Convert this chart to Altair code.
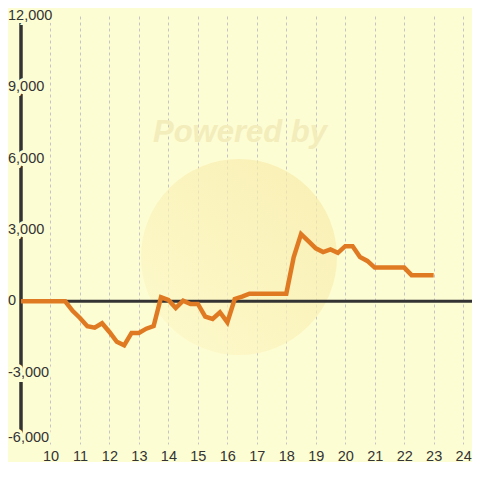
import altair as alt
import pandas as pd

hours = [9, 9.25, 9.5, 9.75, 10, 10.25, 10.5, 10.75, 11, 11.25, 11.5, 11.75,
         12, 12.25, 12.5, 12.75, 13, 13.25, 13.5, 13.75, 14, 14.25, 14.5, 14.75,
         15, 15.25, 15.5, 15.75, 16, 16.25, 16.5, 16.75, 17, 17.25, 17.5, 17.75,
         18, 18.25, 18.5, 18.75, 19, 19.25, 19.5, 19.75, 20, 20.25, 20.5, 20.75,
         21, 21.25, 21.5, 21.75, 22, 22.25, 22.5, 22.75, 23]
values = [0, 0, 0, 0, 0, 0, 0, -400, -700, -1050, -1110, -920,
          -1290, -1700, -1850, -1330, -1330, -1150, -1040, 170, 60, -280, 30, -110,
          -110, -640, -740, -460, -880, 100, 200, 320, 320, 320, 320, 320,
          320, 1850, 2830, 2530, 2230, 2070, 2180, 2040, 2320, 2320, 1860, 1700,
          1420, 1420, 1420, 1420, 1420, 1100, 1100, 1100, 1100]

x_ticks = list(range(10, 25))
y_grid = list(range(-6000, 12001, 1000))
y_label_values = [12000, 9000, 6000, 3000, 0, -3000, -6000]
y_label_texts = ["12,000", "9,000", "6,000", "3,000", "0", "-3,000", "-6,000"]
watermark_text = ["Powered by"]

BG = "#fdfdd3"
FONT = "Liberation Sans"
W, H = 451, 428

df = pd.DataFrame({"h": hours, "v": values})
labels_df = pd.DataFrame({"v": y_label_values, "t": y_label_texts})
one = pd.DataFrame({"t": watermark_text})

xs = alt.Scale(domain=[9, 24.3], nice=False, zero=False)
ys = alt.Scale(domain=[-6000, 12000], nice=False, zero=False)

base = alt.Chart(df).encode(
    x=alt.X("h:Q", scale=xs, axis=alt.Axis(
        values=x_ticks, title=None, domain=False, ticks=False,
        grid=True, gridDash=[3, 3], gridColor="#c4c4c4", gridWidth=1,
        labelFont=FONT, labelFontSize=14.5, labelColor="#333333",
        labelPadding=5, labelFlush=False)),
    y=alt.Y("v:Q", scale=ys, axis=alt.Axis(
        values=y_grid, title=None, domain=False, ticks=False, labels=False,
        grid=True, gridColor="#c8c8c8", gridWidth=1.2)),
)

grad = alt.LinearGradient(
    gradient="linear",
    stops=[alt.GradientStop(color="#fdf8c8", offset=0),
           alt.GradientStop(color="#f7e9a6", offset=1)],
    x1=0, y1=1, x2=1, y2=0)

globe = alt.Chart(one).mark_circle(size=38400, fill=grad, opacity=0.7).encode(
    x=alt.value(218), y=alt.value(241))

wm = alt.Chart(one).mark_text(
    font=FONT, fontSize=31, fontWeight="bold", fontStyle="italic",
    color="#f3ecbb", align="center", baseline="middle").encode(
    x=alt.value(219), y=alt.value(117), text="t:N")

line = base.mark_line(color="#e07a22", strokeWidth=4.5, strokeJoin="miter")

axis_line = alt.Chart(one).mark_rule(color="#333333", strokeWidth=3.5).encode(
    x=alt.value(0), y=alt.value(0), y2=alt.value(H))

zero_line = alt.Chart(one).mark_rule(color="#333333", strokeWidth=3).encode(
    y=alt.datum(0, scale=ys), x=alt.value(0), x2=alt.value(W))

lab_base = alt.Chart(labels_df).transform_calculate(
    vp="datum.v == -6000 ? datum.v + 250 : datum.v")

halo = lab_base.mark_text(
    font=FONT, fontSize=14.5, align="left", baseline="middle",
    fill=BG, stroke=BG, strokeWidth=6).encode(
    x=alt.value(-13), y=alt.Y("vp:Q", scale=ys, axis=None), text="t:N")

ylab = lab_base.mark_text(
    font=FONT, fontSize=14.5, align="left", baseline="middle",
    color="#333333").encode(
    x=alt.value(-13), y=alt.Y("vp:Q", scale=ys, axis=None), text="t:N")

chart = alt.layer(base.mark_line(opacity=0), globe, wm, axis_line, zero_line, halo, ylab, line).properties(
    width=W, height=H,
    autosize=alt.AutoSizeParams(type="none"),
    padding={"left": 13, "top": 8, "right": 0, "bottom": 18},
    background=BG,
).configure_view(stroke=None, fill=BG)

chart.save("out.html", embed_options={"renderer": "svg", "actions": False})
